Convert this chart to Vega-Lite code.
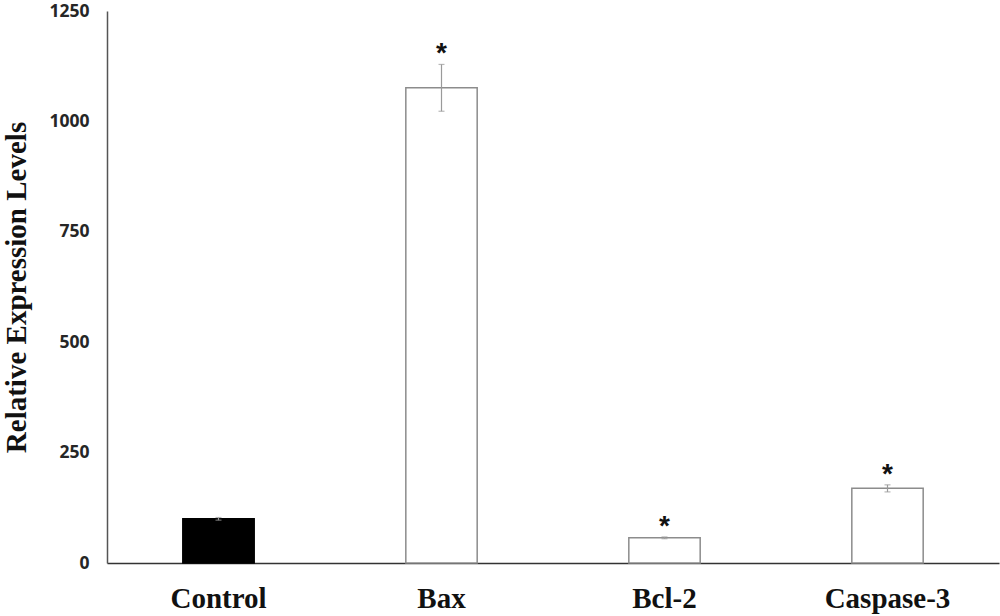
{
  "$schema": "https://vega.github.io/schema/vega-lite/v6.json",
  "width": 892,
  "height": 552,
  "autosize": "none",
  "padding": {"left": 107, "top": 11, "right": 1, "bottom": 53},
  "background": "white",
  "config": {"view": {"stroke": null}},
  "data": {
    "values": [
      {"group": "Control", "value": 100, "lo": 97, "hi": 103, "sig": "", "kind": "control"},
      {"group": "Bax", "value": 1076, "lo": 1023, "hi": 1129, "sig": "*", "kind": "treated"},
      {"group": "Bcl-2", "value": 57, "lo": 55, "hi": 59, "sig": "*", "kind": "treated"},
      {"group": "Caspase-3", "value": 169, "lo": 161, "hi": 177, "sig": "*", "kind": "treated"}
    ]
  },
  "encoding": {
    "x": {
      "field": "group",
      "type": "nominal",
      "sort": null,
      "scale": {"paddingInner": 0.68, "paddingOuter": 0.34},
      "axis": {
        "title": null,
        "labelAngle": 0,
        "labelFont": "Liberation Serif",
        "labelFontWeight": "bold",
        "labelFontSize": 29,
        "labelColor": "#111111",
        "labelPadding": 21,
        "ticks": false,
        "domainColor": "#333333",
        "domainWidth": 1.5
      }
    }
  },
  "layer": [
    {
      "mark": {"type": "bar", "strokeWidth": 1.5},
      "encoding": {
        "y": {
          "field": "value",
          "type": "quantitative",
          "scale": {"domain": [0, 1250], "nice": false},
          "axis": {
            "values": [0, 250, 500, 750, 1000, 1250],
            "format": "d",
            "title": "Relative Expression Levels",
            "titleFont": "Liberation Serif",
            "titleFontWeight": "bold",
            "titleFontSize": 29,
            "titleColor": "#111111",
            "titlePadding": 17,
            "labelFont": "Open Sans",
            "labelFontWeight": "bold",
            "labelFontSize": 17.5,
            "labelColor": "#262626",
            "labelPadding": 18,
            "ticks": false,
            "grid": false,
            "domainColor": "#555555",
            "domainWidth": 1.5
          }
        },
        "fill": {
          "field": "kind",
          "type": "nominal",
          "scale": {"domain": ["control", "treated"], "range": ["#000000", "#ffffff"]},
          "legend": null
        },
        "stroke": {
          "field": "kind",
          "type": "nominal",
          "scale": {"domain": ["control", "treated"], "range": ["#000000", "#8c8c8c"]},
          "legend": null
        }
      }
    },
    {
      "mark": {"type": "rule", "color": "#9a9a9a", "strokeWidth": 1.2},
      "encoding": {
        "y": {"field": "lo", "type": "quantitative"},
        "y2": {"field": "hi"}
      }
    },
    {
      "mark": {"type": "tick", "color": "#9a9a9a", "thickness": 1.2, "size": 6},
      "encoding": {"y": {"field": "hi", "type": "quantitative"}}
    },
    {
      "mark": {"type": "tick", "color": "#9a9a9a", "thickness": 1.2, "size": 6},
      "encoding": {"y": {"field": "lo", "type": "quantitative"}}
    },
    {
      "mark": {"type": "text", "font": "Liberation Sans", "fontWeight": "bold", "fontSize": 28, "baseline": "bottom", "dy": 4, "color": "#111111"},
      "encoding": {
        "y": {"field": "hi", "type": "quantitative"},
        "text": {"field": "sig"}
      }
    }
  ]
}
